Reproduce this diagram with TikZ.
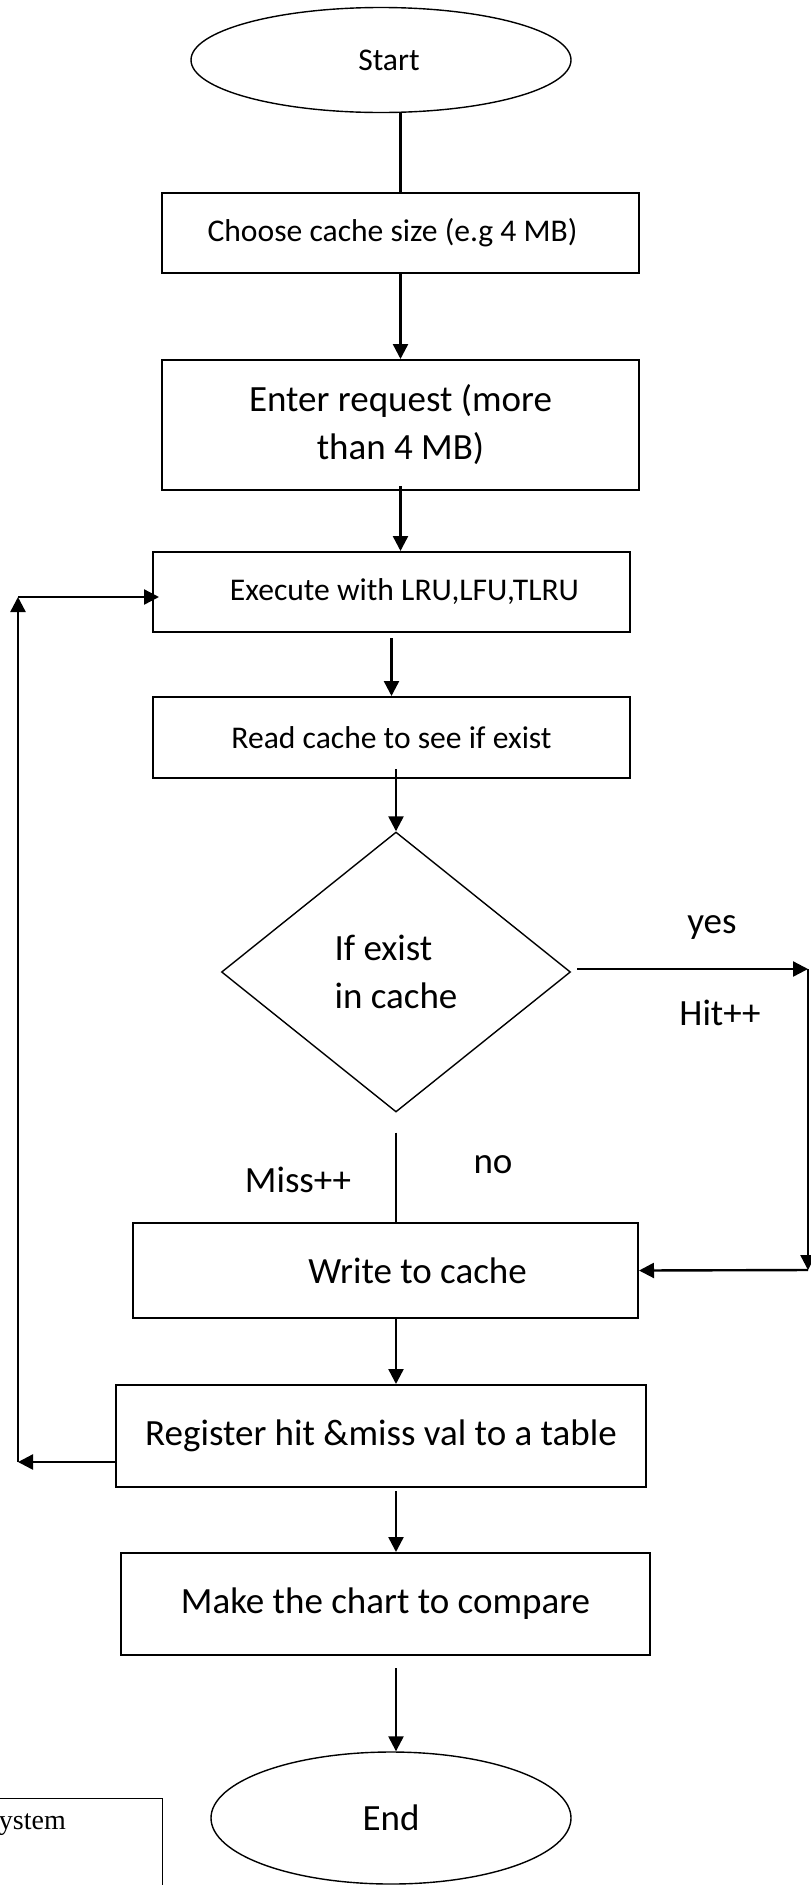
\documentclass[tikz,border=0pt]{standalone}
\usepackage{fontspec}
\setmainfont{Carlito}
\newfontfamily\timesfont{Liberation Serif}
\usetikzlibrary{arrows.meta, shapes.geometric}
\tikzset{
	terminal style/.style={
		ellipse,
		draw,
		line width=1.4pt,
		inner sep=0pt
	},
	process style/.style={
		rectangle,
		draw,
		line width=2pt,
		inner sep=0pt
	},
	decision style/.style={
		diamond,
		draw,
		line width=1.4pt,
		inner sep=0pt
	},
	flow style/.style={
		line width=2.4pt,
		-{Triangle[length=15pt, width=15pt]}
	},
	plain flow style/.style={
		line width=2.2pt
	},
	small text/.style={font=\fontsize{31.6}{38}\selectfont},
	big text/.style={font=\fontsize{37}{48}\selectfont}
}

\begin{document}
\begin{tikzpicture}[x=1pt, y=-1pt]
		
		% --- 1. Page frame ---
		\useasboundingbox (0,0) rectangle (811,1885);
		
		% --- 2. Main column of the chart ---
		\node[terminal style, small text, minimum width=380pt, minimum height=105pt] (start) at (381,60) {\hspace*{16pt}Start};
		\node[process style, small text, minimum width=477pt, minimum height=80pt] (choose) at (400.5,233) {Choose cache size (e.g 4 MB)\hspace*{16pt}};
		\node[process style, big text, align=center, minimum width=477pt, minimum height=130pt] (request) at (400.5,425) {Enter request (more\\than 4 MB)};
		\node[process style, small text, minimum width=477pt, minimum height=80pt] (execute) at (391.5,592) {\hspace*{26pt}Execute with LRU,LFU,TLRU};
		\node[process style, small text, minimum width=477pt, minimum height=81pt] (readcache) at (391.5,737.5) {Read cache to see if exist};
		\node[decision style, big text, align=left, minimum width=349pt, minimum height=280pt] (exist) at (396,972) {If exist\\in cache};
		\node[process style, big text, minimum width=505pt, minimum height=95pt] (write) at (385.5,1270.5) {\hspace*{64pt}Write to cache};
		\node[process style, big text, minimum width=530pt, minimum height=102pt] (register) at (381,1436) {Register hit \&miss val to a table};
		\node[process style, big text, minimum width=529pt, minimum height=102pt] (chart) at (385.5,1604) {Make the chart to compare};
		\node[terminal style, big text, minimum width=360pt, minimum height=132pt] (stop) at (391,1818) {End};
		
		% --- 3. Cut-off box in the corner ---
		\node[process style, line width=1.4pt, anchor=north east, minimum width=190pt, minimum height=110pt] (systembox) at (163,1798) {};
		\node[anchor=east, inner sep=0pt, font=\timesfont\fontsize{28}{32}\selectfont] (systemtext) at (66,1825) {ystem};
		
		% --- 4. Straight flow down ---
		\draw[plain flow style] (choose.north |- start.south) -- (choose.north);
		\draw[flow style] (choose.south) -- (request.north);
		\draw[flow style] ([yshift=5pt]request.south) -- (request.south |- execute.north);
		\draw[flow style] ([yshift=-5pt]execute.south) -- (readcache.north);
		\draw[flow style] ([yshift=10pt]exist.north |- readcache.south) -- (exist.north);
		\draw[flow style] (exist.south |- write.south) -- (exist.south |- register.north);
		\draw[flow style] ([yshift=-3pt]exist.south |- register.south) -- (exist.south |- chart.north);
		\draw[flow style] ([yshift=-12pt]exist.south |- chart.south) -- (exist.south |- stop.north);
		
		% --- 5. Yes branch (hit) ---
		\coordinate (hittop) at (808,969);
		\coordinate (hitbottom) at (808,1270);
		\draw[flow style] ([xshift=6pt]exist.east |- hittop) -- (hittop);
		\draw[flow style] (hittop) -- (hitbottom);
		\draw[flow style] (hitbottom) -- (write.east);
		\node[big text] (yeslabel) at (712,927) {yes};
		\node[big text] (hitlabel) at (720,1013) {Hit++};
		
		% --- 6. No branch (miss) ---
		\draw[plain flow style] ([yshift=-20pt]exist.south) -- (exist.south |- write.north);
		\node[big text] (misslabel) at (298,1180) {Miss++};
		\node[big text] (nolabel) at (493,1165) {no};
		
		% --- 7. Loop back to the algorithms ---
		\coordinate (loopbottom) at (18,1462);
		\coordinate (looptop) at (18,597);
		\draw[flow style] ([yshift=-26pt]register.west) -- (loopbottom);
		\draw[flow style] (loopbottom) -- (looptop);
		\draw[flow style] (looptop) -- ([xshift=7pt]execute.west |- looptop);
		
	\end{tikzpicture}
\end{document}
